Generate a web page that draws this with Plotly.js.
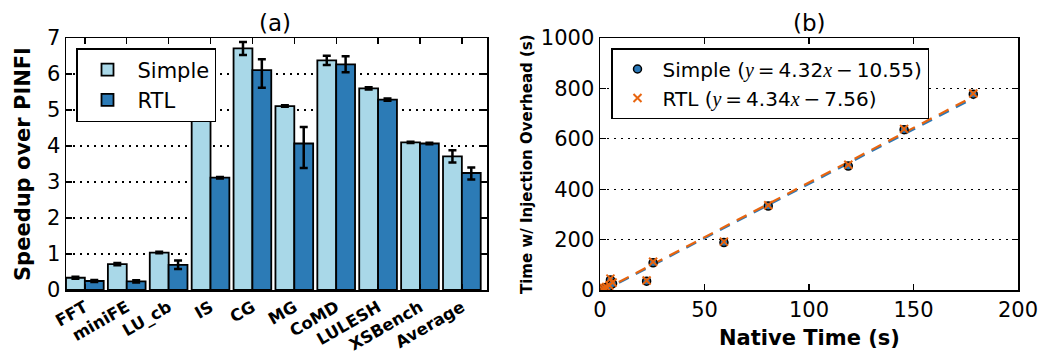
<!DOCTYPE html>
<html>
<head>
<meta charset="utf-8">
<script src="https://cdn.plot.ly/plotly-3.0.1.min.js"></script>
<style>html,body{margin:0;padding:0;background:#fff;}#chart{width:1046px;height:355px;}</style>
</head>
<body>
<div id="chart"></div>
<script>
// ---- Panel (a) data ----
const benchmarks = ['FFT','miniFE','LU_cb','IS','CG','MG','CoMD','LULESH','XSBench','Average'];
const simpleSpeedup = [0.34,0.72,1.04,4.81,6.71,5.11,6.38,5.60,4.10,3.71];
const simpleErr     = [0.03,0.03,0.02,0.03,0.18,0.02,0.13,0.03,0.02,0.17];
const rtlSpeedup    = [0.25,0.24,0.70,3.12,6.11,4.07,6.27,5.29,4.07,3.25];
const rtlErrPlus    = [0.03,0.03,0.12,0.02,0.30,0.46,0.22,0.03,0.02,0.15];
const rtlErrMinus   = [0.03,0.03,0.12,0.02,0.49,0.68,0.22,0.03,0.02,0.18];

// ---- Panel (b) data ----
const nativeTime   = [1.0, 2.0, 3.0, 4.5, 5.0, 6.0, 22.3, 25.4, 59.3, 80.5, 118.8, 145.5, 178.6];
const simpleTime   = [3, 6, 10, 15, 40, 25, 35, 108, 188, 333, 492, 636, 777];
const rtlTime      = [4, 8, 12, 18, 45, 30, 38, 112, 192, 336, 497, 639, 780];
const simpleFit = {slope: 4.32, intercept: -10.55};
const rtlFit    = {slope: 4.34, intercept: -7.56};

const FONT = 'DejaVu Sans, sans-serif';
const lightBlue = '#a9d8e8';
const darkBlue = '#2c7bb6';
const ptBlue = '#2a78b8';
const ptOrange = '#e8650f';

const xmin = Math.min(...nativeTime), xmax = Math.max(...nativeTime);
function fitLine(f){ return [f.slope*xmin+f.intercept, f.slope*xmax+f.intercept]; }

const traces = [
  {type:'bar', x:benchmarks, y:simpleSpeedup, name:'Simple', xaxis:'x', yaxis:'y',
   marker:{color:lightBlue, line:{color:'black', width:1.8}},
   error_y:{type:'data', array:simpleErr, color:'black', thickness:2.5, width:4},
   legend:'legend'},
  {type:'bar', x:benchmarks, y:rtlSpeedup, name:'RTL', xaxis:'x', yaxis:'y',
   marker:{color:darkBlue, line:{color:'black', width:1.8}},
   error_y:{type:'data', symmetric:false, array:rtlErrPlus, arrayminus:rtlErrMinus, color:'black', thickness:2.5, width:4},
   legend:'legend'},
  {type:'scatter', mode:'lines', x:[xmin,xmax], y:fitLine(simpleFit), xaxis:'x2', yaxis:'y2',
   line:{color:ptBlue, width:2.2, dash:'11px,8px'}, showlegend:false, hoverinfo:'skip'},
  {type:'scatter', mode:'lines', x:[xmin,xmax], y:fitLine(rtlFit), xaxis:'x2', yaxis:'y2',
   line:{color:ptOrange, width:2.2, dash:'11px,8px'}, showlegend:false, hoverinfo:'skip'},
  {type:'scatter', mode:'markers', x:nativeTime, y:simpleTime, xaxis:'x2', yaxis:'y2',
   name:'Simple (<i style="font-family:Liberation Serif">y</i>\u2009=\u20094.32<i style="font-family:Liberation Serif">x</i>\u2009\u2212\u200910.55)',
   marker:{symbol:'circle', size:8, color:ptBlue, line:{color:'black', width:1.5}},
   legend:'legend2'},
  {type:'scatter', mode:'markers', x:nativeTime, y:rtlTime, xaxis:'x2', yaxis:'y2',
   name:'RTL (<i style="font-family:Liberation Serif">y</i>\u2009=\u20094.34<i style="font-family:Liberation Serif">x</i>\u2009\u2212\u20097.56)',
   marker:{symbol:'x-thin', size:8, color:ptOrange, line:{color:ptOrange, width:2}},
   legend:'legend2'}
];

const commonAxis = {
  showline:true, linecolor:'black', linewidth:1.5, mirror:'allticks',
  ticks:'inside', ticklen:6, tickwidth:1.3, tickcolor:'black',
  tickfont:{family:FONT, size:21, color:'black'}, zeroline:false, automargin:false
};

const W = 1046, L = 66, R = 28, T = 38, B = 65;
const PW = W - L - R;
const layout = {
  width:W, height:355,
  margin:{l:L, r:R, t:T, b:B},
  paper_bgcolor:'white', plot_bgcolor:'white',
  barmode:'group', bargap:0.1, bargroupgap:0,
  showlegend:true,
  xaxis:Object.assign({}, commonAxis, {
    domain:[0, (487-L)/PW], anchor:'y', type:'category', range:[-0.45, 9.6],
    tickangle:-30, tickfont:{family:FONT, size:16.5, color:'black', weight:'bold'},
    showgrid:false
  }),
  yaxis:Object.assign({}, commonAxis, {
    domain:[0,1], anchor:'x', range:[0,7], dtick:1,
    showgrid:true, gridcolor:'black', gridwidth:1.2, griddash:'2px,5px'
  }),
  xaxis2:Object.assign({}, commonAxis, {
    domain:[(600-L)/PW, 1], anchor:'y2', range:[0,200], dtick:50, showgrid:false
  }),
  yaxis2:Object.assign({}, commonAxis, {
    domain:[0,1], anchor:'x2', range:[0,1000], dtick:200,
    showgrid:true, gridcolor:'black', gridwidth:1.2, griddash:'2px,5px'
  }),
  legend:{
    x:(76-L)/PW, y:1-(48-T)/252, xanchor:'left', yanchor:'top',
    bgcolor:'white', bordercolor:'black', borderwidth:1.5,
    font:{family:FONT, size:21, color:'black'}, itemwidth:50, tracegroupgap:4
  },
  legend2:{
    x:(611-L)/PW, y:1-(48-T)/252, xanchor:'left', yanchor:'top',
    bgcolor:'white', bordercolor:'black', borderwidth:1.5,
    font:{family:FONT, size:20, color:'black'}, itemwidth:40
  },
  annotations:[
    {text:'(a)', xref:'paper', yref:'paper', x:(275-L)/PW, y:1, xanchor:'center', yanchor:'bottom', yshift:0,
     showarrow:false, font:{family:FONT, size:23, color:'black'}},
    {text:'(b)', xref:'paper', yref:'paper', x:(809-L)/PW, y:1, xanchor:'center', yanchor:'bottom', yshift:0,
     showarrow:false, font:{family:FONT, size:23, color:'black'}},
    {text:'<b>Speedup over PINFI</b>', xref:'paper', yref:'paper', x:(23-L)/PW, y:0.5,
     xanchor:'center', yanchor:'middle',
     textangle:-90, showarrow:false, font:{family:FONT, size:21, color:'black'}},
    {text:'<b>Time w/ Injection Overhead (s)</b>', xref:'paper', yref:'paper', x:(527-L)/PW, y:0.5,
     xanchor:'center', yanchor:'middle',
     textangle:-90, showarrow:false, font:{family:FONT, size:15, color:'black'}},
    {text:'<b>Native Time (s)</b>', xref:'paper', yref:'paper', x:(809-L)/PW, y:-(338-290)/252,
     xanchor:'center', yanchor:'middle', showarrow:false, font:{family:FONT, size:21, color:'black'}}
  ]
};

Plotly.newPlot('chart', traces, layout, {displayModeBar:false, staticPlot:true});
</script>
</body>
</html>
